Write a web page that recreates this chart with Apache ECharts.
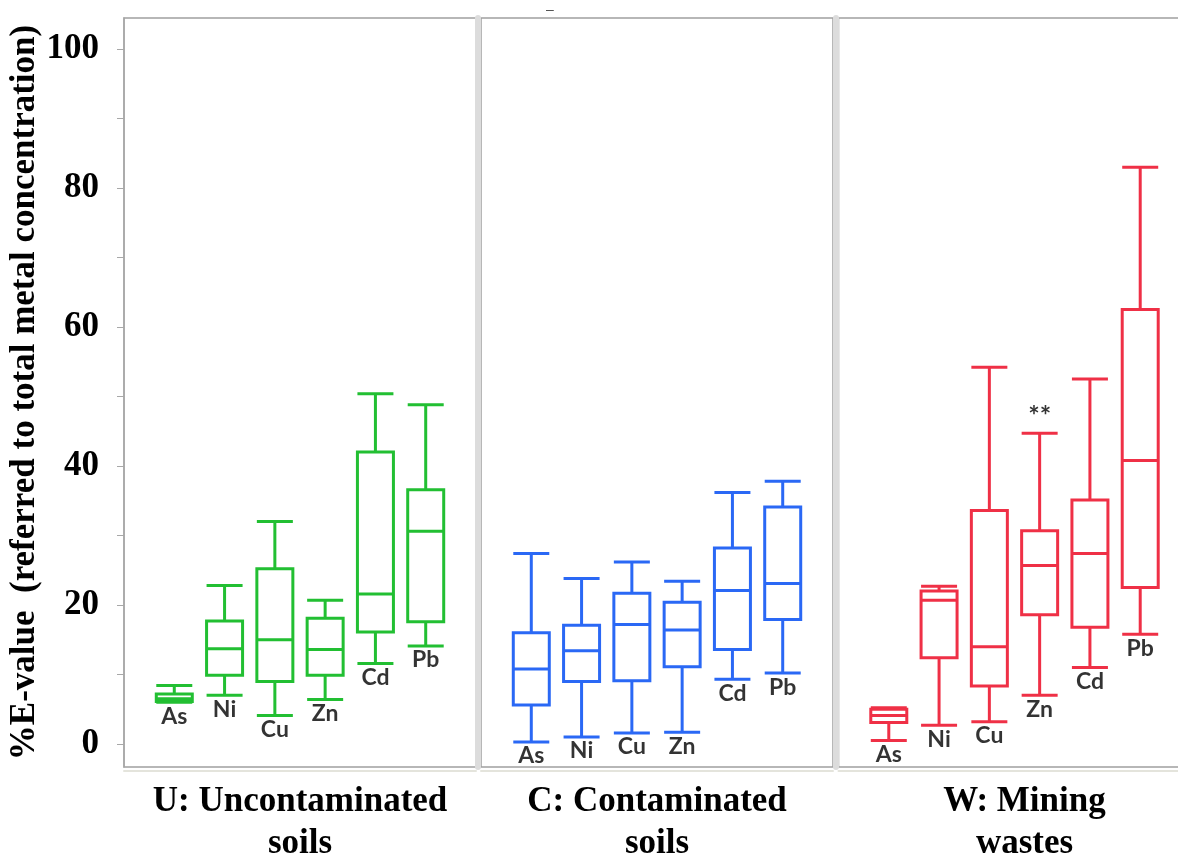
<!DOCTYPE html>
<html>
<head>
<meta charset="utf-8">
<script src="https://cdn.jsdelivr.net/npm/echarts@6/dist/echarts.min.js"></script>
<style>
  html, body { margin: 0; padding: 0; background: #fff; }
  #chart { width: 1178px; height: 858px; }
</style>
</head>
<body>
<div id="chart"></div>
<script>
// ---- data ----
const metals = ['As', 'Ni', 'Cu', 'Zn', 'Cd', 'Pb'];
const groups = ['U: Uncontaminated\nsoils', 'C: Contaminated\nsoils', 'W: Mining\nwastes'];
const yLabelTicks = [0, 20, 40, 60, 80, 100];
const yMinorTicks = [0, 10, 20, 30, 40, 50, 60, 70, 80, 90, 100];
const yTitle = '%E-value  (referred to total metal concentration)';
// each row: [min, Q1, median, Q3, max]
const boxU = [
  [6.0, 6.1, 6.5, 7.2, 8.4],
  [7.0, 9.9, 13.7, 17.7, 22.8],
  [4.1, 9.0, 15.0, 25.2, 32.0],
  [6.4, 9.9, 13.6, 18.1, 20.7],
  [11.6, 16.1, 21.6, 42.0, 50.4],
  [14.1, 17.6, 30.6, 36.6, 48.8]
];
const boxC = [
  [0.3, 5.6, 10.8, 16.0, 27.4],
  [1.0, 9.0, 13.4, 17.1, 23.8],
  [1.6, 9.1, 17.2, 21.7, 26.2],
  [1.7, 11.1, 16.4, 20.4, 23.4],
  [9.3, 13.6, 22.1, 28.2, 36.2],
  [10.2, 17.9, 23.1, 34.1, 37.8]
];
const boxW = [
  [0.5, 3.1, 4.1, 5.0, 5.2],
  [2.7, 12.4, 20.7, 22.0, 22.7],
  [3.2, 8.35, 14.0, 33.6, 54.2],
  [7.0, 18.6, 25.7, 30.7, 44.7],
  [11.0, 16.8, 27.4, 35.1, 52.5],
  [15.8, 22.5, 40.8, 62.5, 83.0]
];
const annotW = ['', '', '', '**', '', ''];
const allBoxes = [boxU, boxC, boxW];
const allAnnot = [null, null, annotW];

// ---- style ----
const colors = ['#22bf32', '#2a68f5', '#ef3046'];
const serif = "'Liberation Serif', 'Times New Roman', serif";
const sans = "Lato, 'Open Sans', sans-serif";
const gridLefts = [124, 481, 838.5];
const gridWidth = 352;
const Y_MIN = -3.31, Y_MAX = 104.46;

const grids = [], xAxes = [], yAxes = [], series = [];
const xCats = [''].concat(metals, ['']);

for (let g = 0; g < 3; g++) {
  grids.push({
    left: gridLefts[g], top: 18, width: gridWidth, height: 749,
    outerBoundsMode: 'none', containLabel: false,
    show: true, borderColor: '#a0a0a0', borderWidth: 1.5, backgroundColor: 'transparent'
  });
  xAxes.push({
    type: 'category', gridIndex: g, data: xCats, boundaryGap: false,
    axisLine: { show: true, onZero: false, lineStyle: { color: '#e4e4dc', width: 2 } },
    offset: 4,
    axisTick: { show: false }, axisLabel: { show: false }, splitLine: { show: false },
    name: groups[g], nameLocation: 'middle', nameGap: 10,
    nameTextStyle: { fontFamily: serif, fontSize: 35, fontWeight: 'bold', color: '#000', lineHeight: 42,
      padding: g === 2 ? [0, 0, 0, 20] : 0 }
  });
  if (g === 0) {
    yAxes.push({
      type: 'value', gridIndex: g, min: Y_MIN, max: Y_MAX,
      axisLine: { show: true, lineStyle: { color: '#a8a8a8', width: 1.5 } },
      axisTick: { show: true, length: 7, customValues: yMinorTicks, lineStyle: { color: '#a8a8a8', width: 1 } },
      axisLabel: { show: true, customValues: yLabelTicks, margin: 25, fontFamily: serif, fontSize: 35, fontWeight: 'bold', color: '#000' },
      splitLine: { show: false },
      name: yTitle, nameLocation: 'middle', nameGap: 77, nameRotate: 90,
      nameTextStyle: { fontFamily: serif, fontSize: 35, fontWeight: 'bold', color: '#000' }
    });
  } else {
    yAxes.push({
      type: 'value', gridIndex: g, min: Y_MIN, max: Y_MAX, offset: 3,
      axisLine: { show: true, lineStyle: { color: '#dcdcdc', width: 6 } },
      axisTick: { show: false }, axisLabel: { show: false }, splitLine: { show: false }
    });
  }
  const boxes = allBoxes[g];
  series.push({
    type: 'boxplot', xAxisIndex: g, yAxisIndex: g,
    data: metals.map((m, i) => [m].concat(boxes[i])),
    encode: { x: 0, y: [1, 2, 3, 4, 5] },
    boxWidth: [36, 36],
    itemStyle: { color: '#ffffff', borderColor: colors[g], borderWidth: 3 },
    emphasis: { disabled: true },
    silent: true, z: 3
  });
  series.push({
    type: 'scatter', xAxisIndex: g, yAxisIndex: g,
    data: metals.map((m, i) => ({ name: m, value: [m, boxes[i][0]] })),
    symbolSize: 1, itemStyle: { color: 'rgba(0,0,0,0)' },
    label: { show: true, position: 'bottom', distance: 2, formatter: '{b}',
      fontFamily: sans, fontSize: 23, fontWeight: 'bold', color: '#000' },
    emphasis: { disabled: true }, silent: true, z: 4
  });
  if (allAnnot[g]) {
    const ann = allAnnot[g];
    series.push({
      type: 'scatter', xAxisIndex: g, yAxisIndex: g,
      data: metals.map((m, i) => ann[i] ? { name: ann[i], value: [m, boxes[i][4]] } : null).filter(d => d),
      symbolSize: 1, itemStyle: { color: 'rgba(0,0,0,0)' },
      label: { show: true, position: 'top', distance: 3, formatter: '{b}',
        fontFamily: sans, fontSize: 27, fontWeight: 'bold', color: '#000' },
      emphasis: { disabled: true }, silent: true, z: 4
    });
  }
}

const chart = echarts.init(document.getElementById('chart'), null, { renderer: 'canvas' });
chart.setOption({
  animation: false,
  backgroundColor: '#ffffff',
  title: { text: '\u2013', left: 541, top: -2, textStyle: { fontSize: 14, color: '#555', fontWeight: 'normal' } },
  grid: grids,
  xAxis: xAxes,
  yAxis: yAxes,
  series: series
});
</script>
</body>
</html>
